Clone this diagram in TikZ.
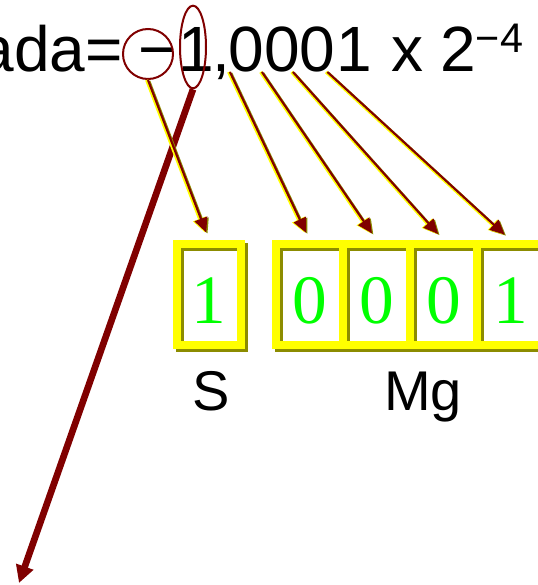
\documentclass[tikz,border=0pt]{standalone}
\usepackage{fontspec}
\setmainfont{Liberation Serif}
\newfontfamily\arialfont{Liberation Sans}
\usetikzlibrary{arrows.meta,shapes.geometric}
\definecolor{wine}{HTML}{800000}
\definecolor{lemon}{HTML}{FFFF00}
\definecolor{boxshade}{HTML}{8C8C00}
\begin{document}
\begin{tikzpicture}[x=0.75pt,y=-0.75pt,
    big/.style={font=\arialfont\fontsize{48}{52}\selectfont, inner sep=0pt, anchor=base},
    small/.style={font=\arialfont\fontsize{31}{34}\selectfont, inner sep=0pt, anchor=base},
    lbl/.style={font=\arialfont\fontsize{42}{46}\selectfont, inner sep=0pt, anchor=base},
    ring/.style={draw=wine, line width=1.5pt, inner sep=0pt},
    cell/.style={draw=lemon, line width=6pt, minimum height=75.75pt, text height=43pt, text depth=0pt,
        inner sep=0pt, text=green, font=\fontsize{52}{56}\selectfont,
        preaction={draw=boxshade, line width=6pt, transform canvas={xshift=1.9pt, yshift=-1.9pt}}},
    feed/.style={wine, line width=1.6pt, -{Triangle[length=11pt,width=10pt]}, shorten >=6pt,
        preaction={draw=boxshade, line width=1.6pt, transform canvas={xshift=1pt, yshift=-0.8pt}},
        preaction={draw=lemon, line width=2.4pt, transform canvas={xshift=-1pt}}},
    sign/.style={wine, line width=5pt, -{Triangle[length=13pt,width=13pt]}}]
    \useasboundingbox (0,0) rectangle (537,585);

    % the number
    \node[big, anchor=base east] (ada) at (123,72) {ada=};
    \node[big] (minus) at (157,72) {−};
    \node[big] (one) at (196,72) {1};
    \node[big] (comma) at (221,72) {,};
    \foreach \d/\x [count=\i] in {0/246,0/282,0/317,1/354.5}
        \node[big] (z\i) at (\x,72) {\d};
    \node[big] (times) at (407,72) {x};
    \node[big] (two) at (458,72) {2};
    \node[small] (expo) at (499.5,53) {−4};

    \node[ring, circle, minimum size=37.5pt] (ringS) at (148,54) {};
    \node[ring, ellipse, minimum width=19.5pt, minimum height=62pt] (ringM) at (193,47) {};

    % the cells
    \node[cell, minimum width=48pt] (s) at (209,294.5) {1};
    \foreach \d [count=\i] in {0,0,0,1}
        \node[cell, minimum width=50.25pt] (m\i) at ({242.5+67*\i},294.5) {\d};

    \node[lbl] (sName) at (211,410) {S};
    \node[lbl] (mgName) at (423,410) {Mg};

    % arrows
    \coordinate (tip) at (19,583);
    \draw[sign] (ringM.south) -- (tip);
    \draw[feed] (ringS.south) -- (s.north);
    \foreach \i/\dx in {1/2,2/-2,3/-6,4/-9}
        \draw[feed] ([xshift=\dx*0.75pt]z\i.base west) -- (m\i.north);
\end{tikzpicture}
\end{document}
